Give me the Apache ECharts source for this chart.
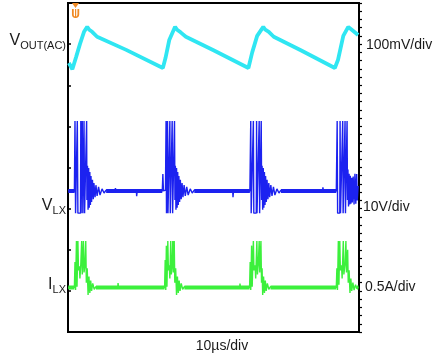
<!DOCTYPE html>
<html>
<head>
<meta charset="utf-8">
<script src="https://cdn.jsdelivr.net/npm/echarts@6/dist/echarts.min.js"></script>
<style>
html,body{margin:0;padding:0;background:#fff;}
#chart{width:439px;height:354px;}
</style>
</head>
<body>
<div id="chart"></div>
<script>
// time in µs (10 µs/div), value in screen divisions (0 = bottom, 8 = top)
var xTicks = [0, 10, 20, 30, 40, 50, 60, 70, 80, 90, 100];
var traceNames = ['VOUT(AC)', 'VLX', 'ILX'];
var scaleLabels = ['100mV/div', '10V/div', '0.5A/div', '10µs/div'];

var voutData = [
  [0.3,6.54],[1.5,6.39],[2.8,6.69],[4.1,7.00],[5.5,7.30],[6.6,7.42],[7.3,7.35],[8.3,7.30],[10.0,7.18],[20.0,6.86],[32.6,6.42],
  [33.5,6.66],[34.8,7.10],[36.8,7.42],[37.5,7.35],[38.8,7.28],[40.5,7.18],[50.0,6.85],[62.0,6.42],
  [63.3,6.80],[65.0,7.20],[67.1,7.42],[67.8,7.35],[69.0,7.30],[70.7,7.18],[80.0,6.85],[91.7,6.42],
  [92.8,6.62],[94.6,7.20],[96.3,7.42],[97.5,7.35],[99.7,7.22]
];

var vlxData = [
  [0.1,3.43],[1.2,3.46],[2.2,3.42],
  [2.4,5.13],[2.6,2.89],[3.1,2.89],[3.2,5.13],[3.4,2.89],[4.3,2.89],[4.4,5.13],[4.5,2.89],[4.9,5.13],[5.1,2.89],[5.5,5.13],[5.7,2.89],[6.4,5.13],
  [6.5,3.21],[6.7,4.04],[6.9,2.97],[7.1,3.99],[7.3,3.02],[7.5,3.89],[7.7,3.09],[7.9,3.79],[8.1,3.16],[8.4,3.70],[8.7,3.23],[8.9,3.62],[9.3,3.28],[9.6,3.57],[10.0,3.31],[10.5,3.53],[11.0,3.33],[11.7,3.48],[12.4,3.38],
  [13.1,3.45],[16.1,3.40],[16.3,3.50],[16.5,3.42],[23.5,3.43],[23.6,3.30],[23.8,3.44],[32.4,3.43],
  [32.6,3.84],[32.8,3.43],[33.5,3.45],
  [33.7,5.13],[33.85,2.89],[34.1,2.89],[34.2,5.13],[34.35,2.89],[34.9,2.89],[35.0,5.13],[35.15,2.89],[35.8,5.13],[35.95,2.89],[36.6,5.13],
  [36.75,3.21],[36.9,4.04],[37.1,2.97],[37.3,3.99],[37.5,3.02],[37.7,3.89],[37.9,3.09],[38.1,3.79],[38.35,3.16],[38.6,3.70],[38.9,3.23],[39.2,3.62],[39.5,3.28],[39.9,3.57],[40.3,3.31],[40.8,3.53],[41.3,3.33],[42.0,3.48],[42.7,3.38],
  [43.4,3.45],[50.0,3.42],[56.6,3.43],[56.7,3.28],[56.9,3.44],[62.5,3.43],
  [62.8,5.13],[62.95,2.89],[63.6,2.89],[63.7,5.13],[63.85,2.89],[64.7,2.89],[64.8,5.13],[64.95,2.89],[65.7,5.13],[65.85,2.89],[66.4,5.13],
  [66.55,3.21],[66.7,4.04],[66.9,2.97],[67.1,3.99],[67.3,3.02],[67.5,3.89],[67.7,3.09],[67.9,3.79],[68.15,3.16],[68.4,3.70],[68.7,3.23],[69.0,3.62],[69.3,3.28],[69.7,3.57],[70.1,3.31],[70.6,3.53],[71.1,3.33],[71.8,3.48],[72.5,3.38],
  [73.2,3.45],[80.0,3.43],[87.5,3.43],[87.6,3.52],[87.8,3.42],[92.2,3.43],
  [92.5,5.13],[92.65,2.89],[93.4,2.89],[93.5,5.13],[93.65,2.89],[94.3,2.89],[94.4,5.13],[94.55,2.89],[95.2,5.13],[95.35,2.89],[95.9,5.13],
  [96.05,3.21],[96.2,3.95],[96.4,3.05],[96.6,3.85],[96.8,3.10],[97.0,3.80],[97.2,3.12],[97.5,3.75],[97.7,3.15],[98.0,3.78],[98.3,3.10],[98.6,3.85],[98.9,3.12],[99.2,3.84],[99.4,3.20],[99.7,3.55]
];

var vlxBand = [
  [0.1,3.43],[2.3,3.43],[2.35,'-'],
  [13.1,3.43],[32.4,3.43],[32.45,'-'],
  [43.4,3.43],[62.5,3.43],[62.55,'-'],
  [73.2,3.43],[92.2,3.43]
];

var ilxData = [
  [0.1,1.07],[1.2,1.09],[2.2,1.08],
  [2.4,1.70],[2.6,1.02],[2.9,2.21],[3.1,1.10],[3.4,2.21],[3.6,1.50],[3.9,1.60],[4.1,1.30],[4.4,1.65],[4.7,2.21],[4.9,1.40],[5.3,2.21],[5.5,1.45],[5.8,1.60],[6.1,2.21],[6.3,1.20],[6.6,1.55],
  [6.9,0.90],[7.2,1.35],[7.5,0.95],[7.8,1.25],[8.1,1.00],[8.5,1.18],[9.0,1.04],[9.6,1.10],
  [17.1,1.08],[17.2,1.19],[17.4,1.07],[25.0,1.08],[33.2,1.08],
  [33.4,1.75],[33.6,1.02],[33.8,2.10],[34.0,1.10],[34.3,2.21],[34.5,1.50],[34.8,1.62],[35.0,1.30],[35.3,2.21],[35.5,1.40],[35.8,1.65],[36.0,2.21],[36.2,1.45],[36.5,2.21],[36.7,1.20],[37.0,1.55],
  [37.3,0.90],[37.6,1.35],[37.9,0.95],[38.2,1.25],[38.5,1.00],[38.9,1.18],[39.4,1.04],[40.0,1.10],
  [50.0,1.08],[59.0,1.08],[59.1,1.18],[59.3,1.07],[62.4,1.08],
  [62.6,1.70],[62.8,1.02],[63.1,2.10],[63.3,1.10],[63.7,2.21],[63.9,1.50],[64.3,1.62],[64.5,1.30],[64.9,2.21],[65.1,1.40],[65.4,1.65],[65.7,2.21],[65.9,1.45],[66.3,2.21],[66.5,1.20],[66.7,1.55],
  [66.9,0.90],[67.2,1.35],[67.5,0.95],[67.8,1.25],[68.1,1.00],[68.5,1.18],[69.0,1.04],[69.6,1.10],
  [80.0,1.08],[92.2,1.08],
  [92.4,1.55],[92.6,1.02],[92.9,2.21],[93.1,1.15],[93.4,2.21],[93.6,1.50],[94.0,1.62],[94.2,1.30],[94.6,2.21],[94.8,1.40],[95.2,1.65],[95.5,2.21],[95.7,1.45],[96.1,2.00],[96.3,1.20],[96.6,1.50],
  [96.9,0.95],[97.2,1.30],[97.5,1.00],[97.9,1.20],[98.3,1.02],[98.8,1.15],[99.3,1.05],[99.7,1.10]
];

var ilxBand = [
  [0.1,1.08],[2.2,1.08],[2.25,'-'],
  [9.6,1.08],[33.2,1.08],[33.25,'-'],
  [40.0,1.08],[62.4,1.08],[62.45,'-'],
  [69.6,1.08],[92.2,1.08],[92.25,'-'],
  [99.3,1.08],[99.8,1.08]
];

var FONT = "'Liberation Sans',Arial,sans-serif";
var TXT = '#1a1a1a';
var chart = echarts.init(document.getElementById('chart'), null, {renderer: 'canvas'});

function subLabel(main, sub) {
  return {
    text: '{a|' + main + '}{b|' + sub + '}',
    rich: {
      a: {fontSize: 16, lineHeight: 21, fontFamily: FONT, fill: TXT, color: TXT},
      b: {fontSize: 11, lineHeight: 9, verticalAlign: 'bottom', fontFamily: FONT, fill: TXT, color: TXT}
    },
    align: 'right', verticalAlign: 'middle'
  };
}
function plainLabel(t, align) {
  return {text: t, fontSize: 14, fontFamily: FONT, fill: TXT, align: align, verticalAlign: 'middle'};
}

var option = {
  animation: false,
  backgroundColor: '#ffffff',
  grid: {left: 68, top: 3, width: 291, height: 329, show: true, borderColor: '#000', borderWidth: 2, backgroundColor: 'transparent'},
  xAxis: {
    type: 'value', min: xTicks[0], max: xTicks[xTicks.length - 1], interval: 10,
    axisLine: {show: false}, axisTick: {show: false}, axisLabel: {show: false}, splitLine: {show: false}
  },
  yAxis: [
    {type: 'value', position: 'left', min: 0, max: 8, interval: 1,
     axisLine: {show: false}, axisTick: {show: true, inside: true, length: 3, lineStyle: {color: '#000', width: 1.5}},
     axisLabel: {show: false}, splitLine: {show: false}},
    {type: 'value', position: 'right', min: 0, max: 8, interval: 1, alignTicks: false,
     axisLine: {show: false},
     axisTick: {show: true, inside: false, length: 3, lineStyle: {color: '#000', width: 1.2}},
     minorTick: {show: true, splitNumber: 5, length: 3, lineStyle: {color: '#000', width: 1.2}},
     axisLabel: {show: false}, splitLine: {show: false}}
  ],
  series: [
    {type: 'line', name: traceNames[0], data: voutData, showSymbol: false, symbol: 'none',
     lineStyle: {color: '#2fe6f2', width: 3.8}, z: 3},
    {type: 'line', name: traceNames[1] + ' band', data: vlxBand, showSymbol: false, symbol: 'none', connectNulls: false,
     lineStyle: {color: '#1c22f0', width: 4}, z: 3},
    {type: 'line', name: traceNames[1], data: vlxData, showSymbol: false, symbol: 'none',
     lineStyle: {color: '#1c22f0', width: 1.4}, z: 3},
    {type: 'line', name: traceNames[2] + ' band', data: ilxBand, yAxisIndex: 1, showSymbol: false, symbol: 'none', connectNulls: false,
     lineStyle: {color: '#3cf03c', width: 4}, z: 3},
    {type: 'line', name: traceNames[2], data: ilxData, yAxisIndex: 1, showSymbol: false, symbol: 'none',
     lineStyle: {color: '#3cf03c', width: 1.4}, z: 3}
  ],
  graphic: [
    {type: 'text', x: 66, y: 41, style: subLabel('V', 'OUT(AC)')},
    {type: 'text', x: 66, y: 206, style: subLabel('V', 'LX')},
    {type: 'text', x: 66, y: 285, style: subLabel('I', 'LX')},
    {type: 'text', x: 366, y: 45, style: plainLabel(scaleLabels[0], 'left')},
    {type: 'text', x: 363, y: 207, style: plainLabel(scaleLabels[1], 'left')},
    {type: 'text', x: 365, y: 287, style: plainLabel(scaleLabels[2], 'left')},
    {type: 'text', x: 222, y: 346, style: plainLabel(scaleLabels[3], 'center')},
    {type: 'polygon', shape: {points: [[72, 3], [79, 3], [75.5, 8]]}, style: {fill: '#f08a24'}},
    {type: 'text', x: 75.5, y: 15, style: {text: 'U', fontSize: 12, fontWeight: 'bold', fontFamily: FONT, fill: '#f08a24', align: 'center', verticalAlign: 'middle'}},
    {type: 'rect', shape: {x: 75, y: 9, width: 1.2, height: 9}, style: {fill: '#f08a24'}}
  ]
};
chart.setOption(option);
</script>
</body>
</html>
